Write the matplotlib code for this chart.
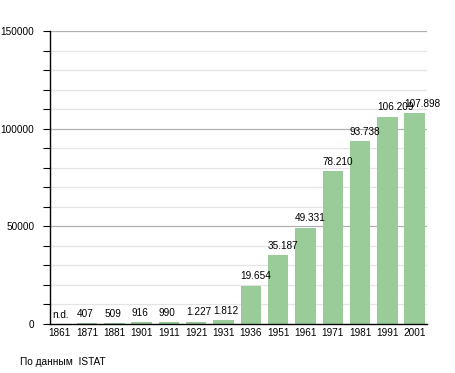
import matplotlib
matplotlib.use("Agg")
import matplotlib.pyplot as plt
import numpy as np

years = ["1861", "1871", "1881", "1901", "1911", "1921", "1931", "1936", "1951", "1961", "1971", "1981", "1991", "2001"]
population = [0, 407, 509, 916, 990, 1227, 1812, 19654, 35187, 49331, 78210, 93738, 106209, 107898]
labels = ["n.d.", "407", "509", "916", "990", "1.227", "1.812", "19.654", "35.187", "49.331", "78.210", "93.738", "106.209", "107.898"]

plt.rcParams['font.family'] = ['Liberation Sans', 'DejaVu Sans']

fig = plt.figure(figsize=(4.55, 3.73), dpi=100)
ax = fig.add_axes([49.5/455, 49/373, 377.5/455, 293/373])

x = np.arange(len(years))
bw = 0.75
ax.set_ylim(0, 150000)
ax.set_xlim(-0.374, 13.45)

for yv in range(10000, 150001, 10000):
    if yv % 50000 == 0:
        ax.axhline(yv, color="#b0b0b0", lw=0.9, zorder=0)
    else:
        ax.axhline(yv, color="#e4e4e4", lw=0.9, zorder=0)

ax.bar(x, population, width=bw, color="#99cc99", zorder=2)

for xi, v, lab in zip(x, population, labels):
    x0 = xi - bw / 2 + (0.1 if lab == "n.d." else 0.0)
    ax.text(x0, v + 2200, lab, ha="left", va="bottom", fontsize=7.2, zorder=3)

ax.set_xticks(x)
ax.set_xticklabels(years, fontsize=7.2)
ax.tick_params(axis='x', length=0, pad=3)
ax.set_yticks([0, 50000, 100000, 150000])
ax.set_yticklabels(["0", "50000", "100000", "150000"], fontsize=7.2)
ax.set_yticks(range(0, 150001, 10000), minor=True)
ax.tick_params(axis='y', which='both', length=5, width=0.8, direction='out', pad=6)

for s in ["top", "right"]:
    ax.spines[s].set_visible(False)
ax.spines["left"].set_color("black")
ax.spines["bottom"].set_color("black")
ax.spines["left"].set_linewidth(1.0)
ax.spines["bottom"].set_linewidth(1.0)

fig.text(20/455, 1 - 362/373, "По данным  ISTAT", fontsize=7.3, va="center", ha="left")

fig.savefig("out.png", dpi=100, facecolor="white")
